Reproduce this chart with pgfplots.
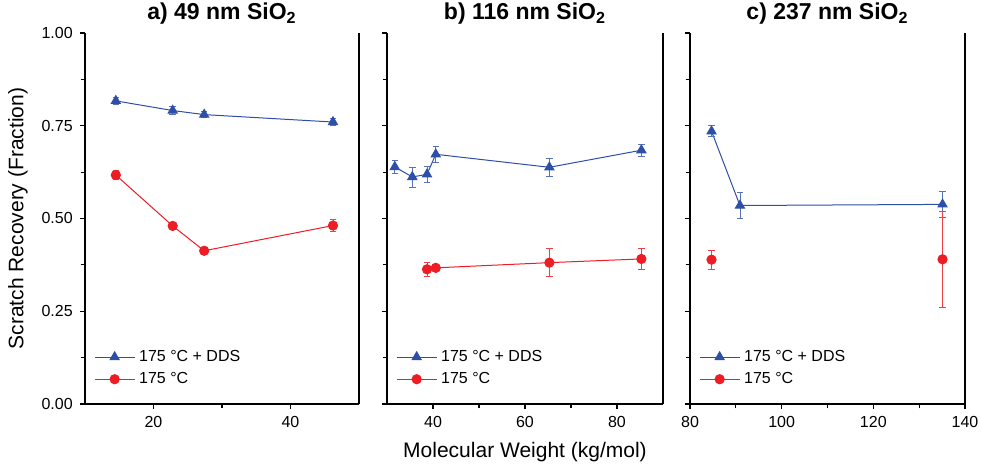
\documentclass[border=0pt]{standalone}
\usepackage{fontspec}
\setmainfont{Liberation Sans}
\usepackage{pgfplots}
\pgfplotsset{compat=1.18}

\definecolor{ddsblue}{RGB}{46,79,168}
\definecolor{plainred}{RGB}{238,28,37}

\pgfplotsset{
  panel/.style={
    scale only axis,
    height=185.5pt,
    ymin=0, ymax=1,
    ytick={0,0.25,0.5,0.75,1},
    minor y tick num=1,
    axis x line=bottom,
    axis y line=box,
    axis line style={-, line width=0.75pt},
    ytick pos=left,
    tick align=outside,
    major tick length=2.6pt,
    minor tick length=2.2pt,
    every tick/.style={black, line width=0.6pt},
    minor x tick num=1,
    tick label style={font=\fontsize{8}{9.5}\selectfont},
    /pgf/number format/assume math mode=true,
    title style={font=\fontsize{11.5}{14}\selectfont\bfseries, at={(0.5,1)}, anchor=base, yshift=0.5pt},
    legend style={at={(0.01,0.025)}, anchor=south west, draw=none, fill=none,
      font=\fontsize{8}{10}\selectfont, row sep=0pt},
    legend cell align=left,
    legend image code/.code={
      \draw[mark repeat=2, mark phase=2] plot coordinates {(0pt,0pt) (10pt,0pt) (20pt,0pt)};
    },
    clip=false,
  },
  dds/.style={color=ddsblue, line width=0.5pt, mark=triangle*, mark size=2.6pt,
    mark options={solid, fill=ddsblue},
    error bars/y dir=both, error bars/y explicit,
    error bars/error bar style={ddsblue!80, line width=0.4pt},
    error bars/error mark options={rotate=90, mark size=1.6pt, ddsblue!80, line width=0.4pt}},
  plain/.style={color=plainred, line width=0.5pt, mark=*, mark size=2.3pt,
    mark options={solid, fill=plainred},
    error bars/y dir=both, error bars/y explicit,
    error bars/error bar style={plainred!85, line width=0.4pt},
    error bars/error mark options={rotate=90, mark size=1.6pt, plainred!85, line width=0.4pt}},
}

\begin{document}
\begin{tikzpicture}
\useasboundingbox (0pt,0pt) rectangle (490.5pt,232pt);

% a) 49 nm
\begin{axis}[panel, at={(42.5pt,30pt)}, anchor=south west, width=137pt,
    xmin=10, xmax=50, xtick={20,40},
    yticklabel style={/pgf/number format/.cd, fixed, fixed zerofill, precision=2},
    title={a) 49 nm SiO\textsubscript{2}}]
\addplot+[dds] coordinates {
  (14.5,0.817) +- (0,0.010)
  (22.8,0.791) +- (0,0.010)
  (27.4,0.780) +- (0,0.008)
  (46.2,0.760) +- (0,0.010)
};
\addlegendentry{175 °C + DDS}
\addplot+[plain] coordinates {
  (14.5,0.617) +- (0,0.012)
  (22.8,0.480) +- (0,0.008)
  (27.4,0.413) +- (0,0.006)
  (46.2,0.481) +- (0,0.016)
};
\addlegendentry{175 °C}
\end{axis}

% b) 116 nm
\begin{axis}[panel, at={(193.5pt,30pt)}, anchor=south west, width=138pt,
    xmin=30, xmax=90, xtick={40,60,80}, yticklabels={},
    title={b) 116 nm SiO\textsubscript{2}}]
\addplot+[dds] coordinates {
  (31.7,0.639) +- (0,0.018)
  (35.5,0.612) +- (0,0.027)
  (38.7,0.619) +- (0,0.022)
  (40.6,0.673) +- (0,0.022)
  (65.3,0.638) +- (0,0.024)
  (85.3,0.684) +- (0,0.017)
};
\addlegendentry{175 °C + DDS}
\addplot+[plain] coordinates {
  (38.7,0.363) +- (0,0.018)
  (40.6,0.367) +- (0,0.008)
  (65.3,0.381) +- (0,0.038)
  (85.3,0.391) +- (0,0.028)
};
\addlegendentry{175 °C}
\end{axis}

% c) 237 nm
\begin{axis}[panel, at={(345pt,30pt)}, anchor=south west, width=137.5pt,
    xmin=80, xmax=140, xtick={80,100,120,140}, yticklabels={},
    title={c) 237 nm SiO\textsubscript{2}}]
\addplot+[dds] coordinates {
  (84.7,0.735) +- (0,0.015)
  (90.9,0.535) +- (0,0.036)
  (135.1,0.538) +- (0,0.034)
};
\addlegendentry{175 °C + DDS}
\addplot+[plain, only marks, forget plot] coordinates {
  (84.7,0.389) +- (0,0.026)
  (135.1,0.390) +- (0,0.130)
};
\addlegendimage{color=plainred, line width=0.5pt, mark=*, mark size=2.3pt, mark options={solid, fill=plainred}}
\addlegendentry{175 °C}
\end{axis}

\node[rotate=90, font=\fontsize{10.5}{12}\selectfont] at (9pt,122.75pt) {Scratch Recovery (Fraction)};
\node[font=\fontsize{10.5}{12}\selectfont] at (262.5pt,6pt) {Molecular Weight (kg/mol)};
\end{tikzpicture}
\end{document}
